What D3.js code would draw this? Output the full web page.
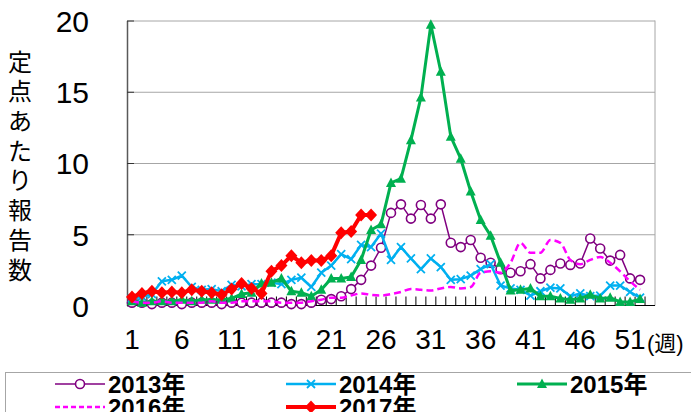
<!DOCTYPE html>
<html>
<head>
<meta charset="utf-8">
<script src="https://cdn.jsdelivr.net/npm/d3@7"></script>
<style>
  html, body { margin: 0; padding: 0; background: #fff; }
  svg { display: block; }
  text { font-family: "Liberation Sans", "Noto Sans CJK JP", sans-serif; }
</style>
</head>
<body>
<svg id="chart" width="691" height="412"></svg>
<script>
// ---- data ----
const weeks = d3.range(1, 54);
const xTickWeeks = [1, 6, 11, 16, 21, 26, 31, 36, 41, 46, 51];
const yTicks = [0, 5, 10, 15, 20];
const seriesNames = ["2013年", "2014年", "2015年", "2016年", "2017年"];

const v2013 = [0.2,0.2,0.1,0.2,0.2,0.1,0.2,0.2,0.2,0.1,0.2,0.2,0.2,0.2,0.2,0.2,0.1,0.1,0.2,
  0.4,0.45,0.65,1.15,1.8,2.8,4.05,6.5,7.1,6.1,7.05,6.1,7.1,4.4,4.1,4.6,3.35,3.0,2.55,2.3,2.4,
  2.9,1.9,2.5,2.95,2.85,2.95,4.7,4.0,3.15,3.55,1.9,1.8];
const v2014 = [0.5,0.6,0.8,1.7,1.8,2.1,1.3,1.1,1.15,1.0,1.45,1.35,1.5,1.5,1.6,1.5,1.8,1.95,1.3,
  2.3,2.8,3.6,3.25,4.25,4.1,5.05,3.2,4.1,3.3,2.55,3.3,2.7,1.8,1.85,2.1,2.55,2.9,1.4,1.2,1.1,
  0.7,1.0,1.25,1.2,0.65,0.85,0.65,0.7,1.4,1.4,0.95,0.55];
const v2015 = [0.3,0.2,0.3,0.3,0.3,0.4,0.3,0.4,0.4,0.4,0.5,0.8,0.9,1.55,1.6,1.9,1.0,0.9,0.65,
  1.1,1.9,1.9,2.0,3.2,5.3,5.7,8.6,8.9,11.6,14.6,19.7,16.4,11.85,10.3,8.0,6.0,4.9,3.0,1.05,1.1,
  1.2,0.65,0.65,0.5,0.4,0.5,0.75,0.5,0.55,0.25,0.25,0.45];
const v2016 = [0.3,0.2,0.2,0.3,0.2,0.2,0.2,0.2,0.3,0.2,0.2,0.3,0.3,0.3,0.3,0.2,0.2,0.2,0.3,
  0.4,0.55,0.55,0.7,0.85,0.75,0.7,0.8,0.95,1.15,1.1,1.05,1.2,1.3,1.2,1.3,2.3,2.4,2.3,3.0,4.4,
  3.7,3.7,4.6,4.4,3.2,2.9,3.2,3.4,3.0,2.4,1.7,1.1];
const v2017 = [0.6,0.85,1.0,0.9,0.95,0.9,1.1,1.0,0.9,0.75,1.15,1.55,1.2,0.85,2.4,2.8,3.5,3.0,
  3.15,3.15,3.5,5.1,5.2,6.35,6.35];

// ---- layout ----
const svg = d3.select("#chart");
const pLeft = 127, pRight = 655, pTop = 20.5, pBottom = 305.5;
const x = d3.scaleBand().domain(weeks).range([pLeft, pRight]);
const cx = w => x(w) + x.bandwidth() / 2;
const y = d3.scaleLinear().domain([0, 20]).range([pBottom, pTop]);

// gridlines
svg.append("g")
  .attr("transform", `translate(${pLeft},0)`)
  .call(d3.axisLeft(y).tickValues([5, 10, 15, 20]).tickSize(-(pRight - pLeft)).tickFormat(""))
  .call(g => g.select(".domain").remove())
  .call(g => g.selectAll("line").attr("stroke", "#a6a6a6").attr("stroke-width", 1));

// right border
svg.append("line").attr("x1", pRight).attr("x2", pRight).attr("y1", pTop).attr("y2", pBottom)
  .attr("stroke", "#a6a6a6");

// y axis
svg.append("g")
  .attr("transform", `translate(${pLeft},0)`)
  .call(d3.axisLeft(y).tickValues(yTicks).tickSizeInner(-7).tickSizeOuter(0).tickPadding(38))
  .call(g => g.select(".domain").attr("stroke", "#595959").attr("stroke-width", 1.5))
  .call(g => g.selectAll(".tick line").attr("stroke", "#333"))
  .call(g => g.selectAll("text").attr("font-size", 30).attr("fill", "#000")
    .attr("font-family", "Liberation Sans, sans-serif").attr("dy", "0.36em"));

// x axis
svg.append("line").attr("x1", pLeft).attr("x2", pRight).attr("y1", pBottom).attr("y2", pBottom)
  .attr("stroke", "#000").attr("stroke-width", 1.2);
svg.append("g").selectAll("line").data(weeks.slice(1)).join("line")
  .attr("x1", d => x(d)).attr("x2", d => x(d))
  .attr("y1", pBottom - 9).attr("y2", pBottom).attr("stroke", "#000").attr("stroke-width", 1);
svg.append("g")
  .attr("transform", `translate(0,${pBottom})`)
  .call(d3.axisBottom(x).tickValues(xTickWeeks).tickSize(0).tickPadding(38))
  .call(g => g.select(".domain").remove())
  .call(g => g.selectAll("text").attr("font-size", 28).attr("fill", "#000")
    .attr("font-family", "Liberation Sans, sans-serif").attr("dy", "0.2em"));
svg.append("text").attr("x", 647).attr("y", 351).attr("font-size", 22).text("(週)");

// y title (vertical)
const yTitle = "定点あたり報告数".split("");
svg.append("g").selectAll("text").data(yTitle).join("text")
  .attr("x", 20).attr("y", (d, i) => 62 + i * 29.7).attr("dy", "0.36em")
  .attr("text-anchor", "middle").attr("font-size", 24)
  .attr("font-family", "Noto Sans CJK JP, sans-serif").text(d => d);

// ---- series ----
const series = [
  { name: seriesNames[0], vals: v2013, color: "#800080", width: 1.5, marker: "circle" },
  { name: seriesNames[1], vals: v2014, color: "#00b0f0", width: 2.5, marker: "x" },
  { name: seriesNames[2], vals: v2015, color: "#00b050", width: 3, marker: "triangle" },
  { name: seriesNames[3], vals: v2016, color: "#ff00ff", width: 2.5, marker: "none", dash: "7,4", curve: true },
  { name: seriesNames[4], vals: v2017, color: "#ff0000", width: 4, marker: "diamond" }
];

function drawMarker(g, type, color) {
  if (type === "circle") {
    g.append("circle").attr("r", 4.5).attr("fill", "#fff").attr("stroke", color).attr("stroke-width", 1.6);
  } else if (type === "x") {
    g.append("path").attr("d", "M-4,-4L4,4M-4,4L4,-4").attr("stroke", color).attr("stroke-width", 1.8);
  } else if (type === "triangle") {
    g.append("path").attr("d", "M0,-5.5L5,4L-5,4Z").attr("fill", color);
  } else if (type === "diamond") {
    g.append("path").attr("d", "M0,-6.5L6,0L0,6.5L-6,0Z").attr("fill", color);
  }
}

series.forEach(s => {
  const pts = s.vals.map((v, i) => [cx(weeks[i]), y(v)]);
  const line = d3.line().curve(s.curve ? d3.curveMonotoneX : d3.curveLinear);
  svg.append("path").attr("d", line(pts)).attr("fill", "none")
    .attr("stroke", s.color).attr("stroke-width", s.width)
    .attr("stroke-linejoin", "round")
    .attr("stroke-dasharray", s.dash || null);
  if (s.marker !== "none") {
    pts.forEach(p => {
      const g = svg.append("g").attr("transform", `translate(${p[0]},${p[1]})`);
      drawMarker(g, s.marker, s.color);
    });
  }
});

// ---- legend ----
svg.append("rect").attr("x", 5.5).attr("y", 372.5).attr("width", 700).attr("height", 60)
  .attr("fill", "#fff").attr("stroke", "#a6a6a6");
const legPos = [[55, 384], [286, 384], [517, 384], [55, 407], [286, 407]];
series.forEach((s, i) => {
  const [lx, ly] = legPos[i];
  svg.append("line").attr("x1", lx).attr("x2", lx + 50).attr("y1", ly).attr("y2", ly)
    .attr("stroke", s.color).attr("stroke-width", s.width)
    .attr("stroke-dasharray", s.dash ? "5,3" : null);
  if (s.marker !== "none") {
    const g = svg.append("g").attr("transform", `translate(${lx + 25},${ly})`);
    drawMarker(g, s.marker, s.color);
  }
  svg.append("text").attr("x", lx + 53).attr("y", ly).attr("dy", "0.36em")
    .attr("font-size", 24).attr("font-weight", "bold").text(s.name);
});
</script>
</body>
</html>
